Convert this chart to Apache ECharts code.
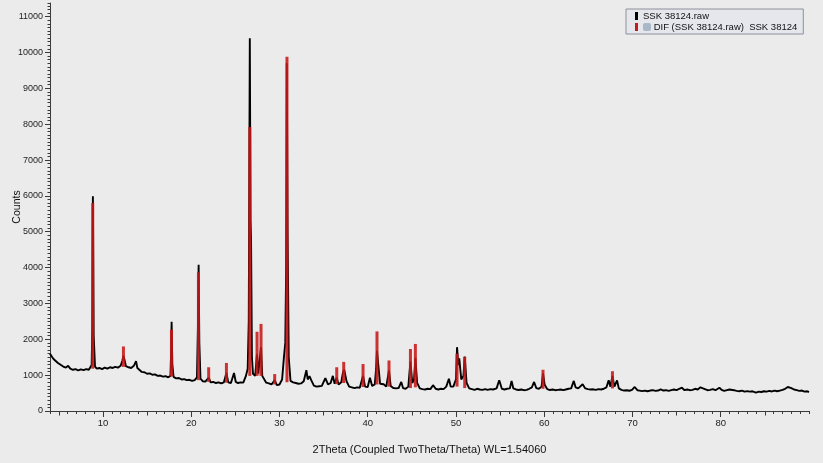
<!DOCTYPE html>
<html>
<head>
<meta charset="utf-8">
<script src="https://cdn.jsdelivr.net/npm/echarts@6/dist/echarts.min.js"></script>
<style>
html,body{margin:0;padding:0;background:#ebebeb;}
#chart{width:823px;height:463px;}
</style>
</head>
<body>
<div id="chart"></div>
<script>
// Measured scan (2Theta in degrees, counts)
const scanTheta = [
4.0,4.2,4.4,4.6,4.9,5.2,5.5,5.8,6.05,6.3,6.6,6.9,7.2,7.5,7.8,8.1,8.4,8.6,8.72,8.8,8.86,8.95,9.1,9.3,9.6,9.9,
10.2,10.5,10.8,11.1,11.4,11.7,12.0,12.2,12.32,12.45,12.6,12.9,13.2,13.5,13.75,13.9,14.1,14.4,14.7,15.0,15.3,15.6,15.9,
16.2,16.5,16.8,17.1,17.4,17.65,17.72,17.78,17.86,18.0,18.3,18.6,18.9,19.2,19.5,19.8,20.1,20.4,20.65,20.76,20.84,20.92,
21.05,21.3,21.6,21.98,22.2,22.5,22.8,23.1,23.4,23.7,23.99,24.2,24.5,24.85,25.05,25.3,25.6,25.9,26.2,26.4,26.52,26.64,
26.72,26.78,26.88,27.0,27.25,27.45,27.6,27.75,27.91,28.05,28.25,28.5,28.8,29.1,29.46,29.7,30.0,30.3,30.5,30.66,30.76,
30.83,30.92,31.05,31.25,31.55,31.85,32.15,32.45,32.75,33.05,33.2,33.4,33.6,33.9,34.2,34.5,34.8,35.2,35.5,35.8,36.05,
36.25,36.49,36.7,37.0,37.2,37.33,37.6,37.9,38.2,38.5,38.8,39.1,39.3,39.47,39.7,40.0,40.25,40.5,40.8,40.95,41.05,41.2,
41.4,41.8,42.1,42.41,42.6,42.9,43.2,43.5,43.8,44.0,44.3,44.6,44.84,45.05,45.25,45.4,45.6,45.9,46.2,46.5,46.8,47.1,
47.4,47.7,48.0,48.3,48.6,48.9,49.2,49.4,49.7,50.0,50.12,50.27,50.37,50.6,50.85,50.99,51.2,51.5,51.8,52.1,52.4,52.7,
53.0,53.3,53.6,53.9,54.2,54.6,54.9,55.2,55.5,55.8,56.1,56.3,56.5,56.8,57.1,57.4,57.7,58.0,58.3,58.6,58.85,59.1,59.4,
59.7,59.86,60.05,60.35,60.65,60.95,61.25,61.55,61.85,62.15,62.45,62.75,63.05,63.35,63.55,63.85,64.05,64.35,64.65,
64.95,65.25,65.55,65.85,66.15,66.45,66.75,67.05,67.3,67.5,67.73,67.95,68.25,68.45,68.75,69.05,69.35,69.65,69.95,
70.25,70.55,70.8,71.1,71.4,71.7,72.0,72.3,72.6,72.9,73.2,73.5,73.8,74.1,74.4,74.7,75.0,75.3,75.6,75.9,76.2,76.5,
76.8,77.1,77.4,77.7,77.9,78.2,78.5,78.8,79.1,79.4,79.6,79.85,80.1,80.4,80.7,81.0,81.2,81.5,81.8,82.1,82.4,82.7,83.0,
83.3,83.6,84.0,84.3,84.6,84.9,85.2,85.5,85.8,86.1,86.4,86.7,87.0,87.3,87.6,87.8,88.0,88.3,88.6,88.9,89.2,89.5,89.8,90.0
];
const scanCounts = [
1600,1520,1450,1400,1340,1290,1240,1210,1260,1180,1150,1170,1130,1160,1140,1170,1150,1180,1280,2400,5990,2100,1240,1180,1200,1170,
1210,1180,1220,1200,1230,1210,1260,1400,1540,1420,1250,1220,1200,1260,1390,1200,1150,1090,1080,1040,1050,1010,1020,
980,990,960,970,940,980,1600,2490,1300,950,910,920,880,890,860,870,840,860,940,2300,4080,1900,
900,830,820,930,800,810,780,800,770,800,1060,800,780,1060,810,780,800,790,980,1180,2500,10400,
5330,4800,1500,1040,980,1580,1040,1080,1780,980,930,790,770,740,860,720,740,880,1480,1900,4000,
9700,5000,1500,840,800,780,760,770,830,1140,880,970,860,710,680,690,700,920,740,780,980,
760,930,740,800,1080,1160,830,680,660,640,660,650,680,980,680,670,930,700,740,1180,1680,1280,
760,745,680,1130,700,640,630,640,810,640,620,680,1380,780,880,1480,780,630,610,600,620,610,
720,620,600,620,610,680,900,680,680,880,1780,1280,1470,880,980,1520,780,630,610,590,620,600,
590,610,590,610,600,630,860,620,600,620,630,840,630,600,585,600,580,590,620,660,810,640,620,
680,1050,730,610,585,600,580,590,600,580,600,620,630,840,660,630,660,745,630,
610,600,605,590,610,600,620,660,855,680,980,680,855,630,590,570,580,565,590,
670,580,570,555,570,550,570,580,560,570,600,570,580,560,580,600,580,620,650,580,600,580,
590,620,600,660,715,610,580,590,610,580,630,650,590,560,580,600,625,580,560,550,570,540,555,
540,550,515,540,530,550,540,560,545,570,550,570,590,620,670,700,640,600,580,560,570,540,550,530
];
// Reference pattern sticks (DIF): position, base, top
const stickTheta = [8.84,12.32,17.76,20.82,21.98,23.99,26.64,27.46,27.91,29.46,30.85,36.49,37.28,39.47,41.05,42.41,44.84,45.40,50.12,50.99,59.86,67.73];
const stickBase  = [1180,1230,960,860,810,790,980,980,980,740,800,750,780,670,740,680,640,660,680,640,620,630];
const stickTop   = [5800,1800,2270,3870,1220,1340,7920,2210,2430,1030,9880,1220,1370,1310,2220,1410,1730,1870,1600,1510,1150,1110];
// Axis ticks and labels
const xLabelValues = [10,20,30,40,50,60,70,80];
const xMidTicks = [5,15,25,35,45,55,65,75,85];
const yLabelValues = [0,1000,2000,3000,4000,5000,6000,7000,8000,9000,10000,11000];
const scanName = 'SSK 38124.raw';
const difName = 'DIF (SSK 38124.raw)  SSK 38124';
const xName = '2Theta (Coupled TwoTheta/Theta) WL=1.54060';
const yName = 'Counts';

const chart = echarts.init(document.getElementById('chart'), null, {renderer:'canvas'});
const axisColor = '#3a3a3a';
const fontFam = "'Liberation Sans Narrow','Liberation Sans',Arial,sans-serif";
const scanData = scanTheta.map((t,i)=>[t, scanCounts[i]]);
const stickData = stickTheta.map((t,i)=>[t, stickBase[i], stickTop[i]]);
const plain = function(v){ return String(v); };

const baseX = {type:'value', min:4, max:90, gridIndex:0, position:'bottom', splitLine:{show:false}};
const baseY = {type:'value', min:0, max:11380, gridIndex:0, position:'left', splitLine:{show:false}};

chart.setOption({
  backgroundColor:'#ebebeb',
  animation:false,
  grid:{left:50, right:14, top:3, bottom:52, containLabel:false, outerBoundsMode:'none'},
  legend:{
    left:626, top:9, orient:'vertical',
    padding:[2,6,2,9], itemGap:1, itemWidth:3, itemHeight:8,
    backgroundColor:'#e5e7ed', borderColor:'#8c9099', borderWidth:1, borderRadius:0,
    textStyle:{fontSize:9.5, color:'#111', fontFamily:'Liberation Sans, Arial, sans-serif',
      rich:{ic:{width:8, height:8, backgroundColor:'#a9b8c8', borderRadius:2}}},
    data:[{name:scanName, icon:'rect', itemStyle:{color:'#000'}},
          {name:difName, icon:'rect', itemStyle:{color:'#c81818'}}],
    formatter:function(n){ return n===difName ? '{ic|} ' + n : n; }
  },
  xAxis:[
    Object.assign({}, baseX, {
      name:xName, nameLocation:'middle', nameGap:33, nameMoveOverlap:false,
      nameTextStyle:{fontSize:11, color:'#111', fontFamily:fontFam},
      axisLine:{show:true, onZero:false, lineStyle:{color:axisColor, width:1}},
      axisTick:{show:true, customValues:xLabelValues, length:6, lineStyle:{color:axisColor}},
      axisLabel:{show:true, customValues:xLabelValues, formatter:plain, fontSize:9.5, color:'#222', margin:7, fontFamily:fontFam}
    }),
    Object.assign({}, baseX, {
      interval:1,
      axisLine:{show:false}, axisLabel:{show:false},
      axisTick:{show:true, length:3, lineStyle:{color:axisColor}}
    }),
    Object.assign({}, baseX, {
      axisLine:{show:false}, axisLabel:{show:false},
      axisTick:{show:true, customValues:xMidTicks, length:4.5, lineStyle:{color:axisColor}}
    })
  ],
  yAxis:[
    Object.assign({}, baseY, {
      name:yName, nameLocation:'middle', nameGap:27, nameRotate:90, nameMoveOverlap:false,
      nameTextStyle:{fontSize:10.5, color:'#111', fontFamily:'Liberation Sans, Arial, sans-serif'},
      axisLine:{show:true, onZero:false, lineStyle:{color:axisColor, width:1}},
      axisTick:{show:true, customValues:yLabelValues, length:5, lineStyle:{color:axisColor}},
      axisLabel:{show:true, customValues:yLabelValues, formatter:plain, fontSize:9, color:'#222', margin:7, fontFamily:fontFam}
    }),
    Object.assign({}, baseY, {
      interval:100,
      axisLine:{show:false}, axisLabel:{show:false},
      axisTick:{show:true, length:2.5, lineStyle:{color:axisColor}}
    })
  ],
  series:[
    {
      name:scanName, type:'line', xAxisIndex:0, yAxisIndex:0,
      data:scanData, showSymbol:false, symbol:'none',
      lineStyle:{color:'#000', width:1.9}, itemStyle:{color:'#000'}, z:2
    },
    {
      name:difName, type:'custom', xAxisIndex:0, yAxisIndex:0,
      data:stickData, encode:{x:0, y:[1,2]}, itemStyle:{color:'#c81818'}, z:3,
      renderItem:function(params, api){
        const a = api.coord([api.value(0), api.value(1)]);
        const b = api.coord([api.value(0), api.value(2)]);
        return {type:'line', shape:{x1:a[0], y1:a[1], x2:b[0], y2:b[1]},
                style:{stroke:'#c81818', lineWidth:3, opacity:0.88}};
      }
    }
  ]
});
</script>
</body>
</html>
